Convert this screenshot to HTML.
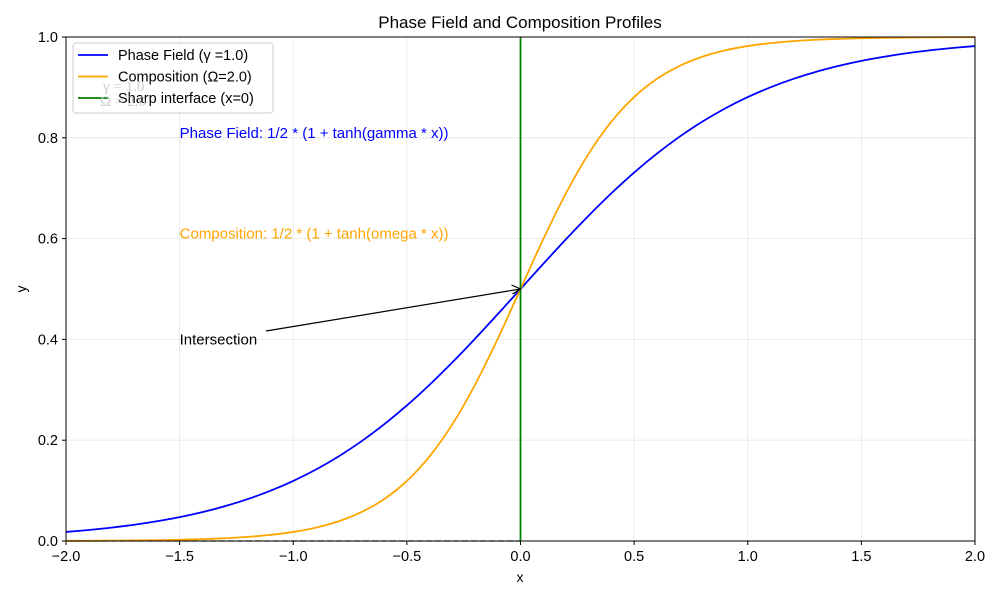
<!DOCTYPE html>
<html><head><meta charset="utf-8"><style>
body{margin:0;background:#fff}
svg{display:block;font-family:"Liberation Sans","IPAGothic",sans-serif}
</style></head><body>
<svg id="c" width="1000" height="600"></svg>
<script>
const xTicks=[-2,-1.5,-1,-0.5,0,0.5,1,1.5,2];
const xTickLabels=["−2.0","−1.5","−1.0","−0.5","0.0","0.5","1.0","1.5","2.0"];
const yTicks=[0,0.2,0.4,0.6,0.8,1.0];
const yTickLabels=["0.0","0.2","0.4","0.6","0.8","1.0"];
const xs=[-2,-1.9,-1.8,-1.7,-1.6,-1.5,-1.4,-1.3,-1.2,-1.1,-1,-0.9,-0.8,-0.7,-0.6,-0.5,-0.4,-0.3,-0.2,-0.1,0,0.1,0.2,0.3,0.4,0.5,0.6,0.7,0.8,0.9,1,1.1,1.2,1.3,1.4,1.5,1.6,1.7,1.8,1.9,2];
const phaseHalf=[0.0180,0.0219,0.0266,0.0323,0.0392,0.0474,0.0573,0.0691,0.0832,0.0998,0.1192,0.1419,0.1680,0.1978,0.2315,0.2689,0.3100,0.3543,0.4013,0.4502];
const compHalf=[0.000335,0.0005,0.000746,0.001113,0.001659,0.002473,0.003684,0.005486,0.008163,0.01213,0.01799,0.0266,0.03917,0.05732,0.08317,0.1192,0.1680,0.2315,0.3100,0.4013];
const phase=phaseHalf.concat([0.5],phaseHalf.slice().reverse().map(v=>+(1-v).toFixed(6)));
const comp=compHalf.concat([0.5],compHalf.slice().reverse().map(v=>+(1-v).toFixed(6)));
const L=66,R=975,T=37,B=541;
const sx=v=>L+(v+2)/4*(R-L), sy=v=>B-v*(B-T);
const svg=document.getElementById('c');const NS='http://www.w3.org/2000/svg';
function mk(tag,attrs,parent){const e=document.createElementNS(NS,tag);for(const k in attrs)e.setAttribute(k,attrs[k]);(parent||svg).appendChild(e);return e;}
function txt(s,attrs){const e=mk('text',attrs);e.textContent=s;return e;}
xTicks.forEach((v,i)=>{
 const g=mk('line',{x1:sx(v),x2:sx(v),y1:T,y2:B,stroke:'#e6e6e6','stroke-width':0.8});
 
 mk('line',{x1:sx(v),x2:sx(v),y1:B,y2:B+4,stroke:'#000'});
 const t=txt(xTickLabels[i],{x:sx(v),y:B+20,'text-anchor':'middle','font-size':14.5});
 
});
yTicks.forEach((v,i)=>{
 const g=mk('line',{x1:L,x2:R,y1:sy(v),y2:sy(v),stroke:'#e6e6e6','stroke-width':0.8});
 
 mk('line',{x1:L-4,x2:L,y1:sy(v),y2:sy(v),stroke:'#000'});
 const t=txt(yTickLabels[i],{x:L-8,y:sy(v)+5,'text-anchor':'end','font-size':14.5});
 
});
const dz=mk('line',{x1:sx(-2),x2:sx(0),y1:sy(0),y2:sy(0),stroke:'#333','stroke-dasharray':'6,3','stroke-width':1.3});

function path(ys,color,name){
 const P=xs.map((x,i)=>[sx(x),sy(ys[i])]);
 let d='M'+P[0][0].toFixed(2)+','+P[0][1].toFixed(2);
 for(let i=0;i<P.length-1;i++){
  const p0=P[Math.max(i-1,0)],p1=P[i],p2=P[i+1],p3=P[Math.min(i+2,P.length-1)];
  const c1=[p1[0]+(p2[0]-p0[0])/6,p1[1]+(p2[1]-p0[1])/6],c2=[p2[0]-(p3[0]-p1[0])/6,p2[1]-(p3[1]-p1[1])/6];
  d+=`C${c1[0].toFixed(2)},${c1[1].toFixed(2)} ${c2[0].toFixed(2)},${c2[1].toFixed(2)} ${p2[0].toFixed(2)},${p2[1].toFixed(2)}`;
 }
 const p=mk('path',{d:d,fill:'none',stroke:color,'stroke-width':1.8,'stroke-linejoin':'round'});
 }
path(phase,'#0000ff','phase-field-line');
path(comp,'#ffa500','composition-line');
const vl=mk('line',{x1:sx(0),x2:sx(0),y1:T,y2:B,stroke:'#008000','stroke-width':1.8});

const fr=mk('rect',{x:L,y:T,width:R-L,height:B-T,fill:'none',stroke:'#000','stroke-width':1});

const a1=txt('Phase Field: 1/2 * (1 + tanh(gamma * x))',{x:sx(-1.5),y:sy(0.8),fill:'#0000ff','font-size':15});

const a2=txt('Composition: 1/2 * (1 + tanh(omega * x))',{x:sx(-1.5),y:sy(0.6),fill:'#ffa500','font-size':15});

const a3=txt('Intersection',{x:sx(-1.5),y:sy(0.4)+5,fill:'#000','font-size':15});

const ar=mk('line',{x1:266,y1:331,x2:sx(0),y2:sy(0.5),stroke:'#000','stroke-width':1.2});

mk('path',{d:`M${sx(0)-9},${sy(0.5)-4} L${sx(0)},${sy(0.5)} L${sx(0)-8},${sy(0.5)+5}`,fill:'none',stroke:'#000','stroke-width':1.2});
const ti=txt('Phase Field and Composition Profiles',{x:520,y:28,'text-anchor':'middle','font-size':17});

const xl=txt('x',{x:520,y:582,'text-anchor':'middle','font-size':14});

const yl=txt('y',{x:26,y:289,'text-anchor':'middle','font-size':14,transform:'rotate(-90 26 289)'});

const lg=mk('g',{});

mk('rect',{x:73,y:43,width:200,height:70,rx:3,fill:'#fff','fill-opacity':0.8,stroke:'#ccc'},lg);
[['Phase Field (γ =1.0)','#0000ff'],['Composition (Ω=2.0)','#ffa500'],['Sharp interface (x=0)','#008000']].forEach((e,i)=>{
 const y=55+i*21.5;
 const ln=mk('line',{x1:78,x2:108,y1:y,y2:y,stroke:e[1],'stroke-width':1.8},lg);
 
 const t=mk('text',{x:118,y:y+5,'font-size':14.5},lg);t.textContent=e[0];
 
});
const g1=txt('γ = 1.0',{x:103,y:91,fill:'#ccc','font-size':15,'font-family':'Liberation Serif,serif'});

const g2=txt('Ω = 2.0',{x:100,y:106,fill:'#ccc','font-size':15,'font-family':'Liberation Serif,serif'});

</script>
</body></html>
